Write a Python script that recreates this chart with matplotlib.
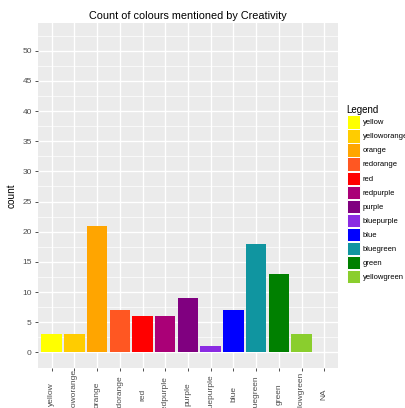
import matplotlib
matplotlib.use("Agg")
import matplotlib.pyplot as plt
from matplotlib.patches import Patch
import numpy as np

plt.rcParams['font.family'] = ['Liberation Sans', 'DejaVu Sans']

categories = ["yellow", "yelloworange", "orange", "redorange", "red", "redpurple",
              "purple", "bluepurple", "blue", "bluegreen", "green", "yellowgreen", "NA"]
counts = [3, 3, 21, 7, 6, 6, 9, 1, 7, 18, 13, 3, 52]
fills = ["#FFFF00", "#FFCC00", "#FFA500", "#FF5722", "#FF0000", "#AA0077",
         "#800080", "#8A2BE2", "#0000FF", "#1095A0", "#008000", "#8ACE2D", "none"]
y_ticks = [0, 5, 10, 15, 20, 25, 30, 35, 40, 45, 50]

fig = plt.figure(figsize=(4.06, 4.08), dpi=100)
W, H = 406, 408
left, right, top, bottom = 38, 338, 23, 368
ax = fig.add_axes([left / W, 1 - bottom / H, (right - left) / W, (bottom - top) / H])
ax.set_facecolor("#EBEBEB")

x = np.arange(len(categories))
ax.bar(x, counts, width=0.9, color=fills, edgecolor="none", zorder=3)

n = len(categories)
ax.set_xlim(-0.6, n - 1 + 0.6)
ymax = max(counts)
ax.set_ylim(-0.05 * ymax, ymax * 1.05)

ax.set_xticks(x)
ax.set_xticklabels(categories, rotation=90, va="center", ha="center",
                   fontsize=6.0, color="#4D4D4D")
ax.set_yticks(y_ticks)
ax.set_yticklabels([str(v) for v in y_ticks], fontsize=6.0, color="#4D4D4D")
ax.set_yticks([v + 2.5 for v in y_ticks], minor=True)

ax.grid(which="major", color="white", linewidth=1.0, zorder=0)
ax.grid(which="minor", axis="y", color="white", linewidth=0.5, zorder=0)
ax.set_axisbelow(True)
ax.tick_params(axis="both", which="major", length=2.5, width=0.6, color="#333333")
ax.tick_params(axis="y", which="major", pad=2)
ax.tick_params(axis="x", which="major", pad=16.5)
ax.tick_params(axis="y", which="minor", length=0)
for s in ax.spines.values():
    s.set_visible(False)

ax.set_ylabel("count", fontsize=7.2, labelpad=4)
ax.set_title("Count of colours mentioned by Creativity", fontsize=7.8, pad=3)

handles = [Patch(facecolor=c, edgecolor="white", linewidth=0.7, label=l)
           for c, l in zip(fills[:-1], categories[:-1])]
leg = fig.legend(handles=handles, title="Legend", loc="upper left",
                 bbox_to_anchor=(345 / W, 1 - 103 / H), frameon=False,
                 fontsize=5.5, title_fontsize=7.0, handlelength=1.8, handleheight=2.3,
                 labelspacing=0.10, handletextpad=0.3, borderaxespad=0, borderpad=0.2)
leg._legend_box.align = "left"

fig.savefig("out.png", dpi=100)
